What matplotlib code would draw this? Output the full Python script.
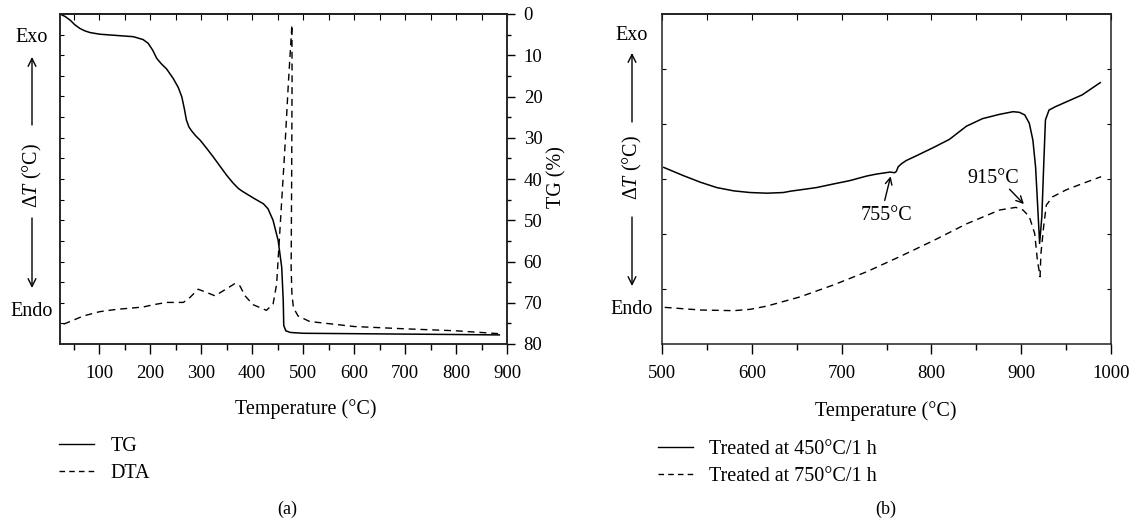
import matplotlib
matplotlib.use("Agg")
import matplotlib.pyplot as plt
from matplotlib.lines import Line2D
from matplotlib.patches import FancyArrowPatch
from matplotlib.ticker import MultipleLocator, FixedLocator, NullFormatter

plt.rcParams["font.family"] = ["Liberation Serif", "DejaVu Serif"]
plt.rcParams["mathtext.fontset"] = "custom"
plt.rcParams["mathtext.rm"] = "Liberation Serif"
plt.rcParams["mathtext.it"] = "Liberation Serif:italic"
plt.rcParams["font.size"] = 14.5

# (a) TG / DTA of the as-prepared powder
tg_temp = [23, 33, 43, 52, 62, 72, 82, 101, 134, 167, 186, 196, 205, 213, 222, 232, 245, 255,
           262, 267, 271, 276, 281, 289, 298, 311, 324, 337, 350, 362, 373, 381, 389, 405,
           422, 431, 441, 451, 458, 461, 462, 466, 475, 500, 600, 700, 800, 885]
tg_loss = [0, 0.6, 1.5, 2.6, 3.5, 4.1, 4.5, 4.9, 5.2, 5.5, 6.2, 7.1, 8.8, 10.8, 12.1, 13.3, 15.6, 17.8,
           20.1, 23.0, 25.7, 27.4, 28.3, 29.5, 30.6, 32.6, 34.7, 36.9, 39.1, 40.9, 42.3, 43.0, 43.6, 44.8,
           46.0, 47.2, 50.0, 54.9, 61.4, 69.5, 75.5, 76.8, 77.2, 77.4, 77.5, 77.6, 77.7, 77.8]

dta_temp = [30, 69, 101, 134, 186, 206, 232, 265, 278, 294, 311, 327, 343, 366, 376,
            386, 402, 428, 441, 448, 454, 464, 471, 475, 478, 478.3, 477.5, 476.5, 478,
            481, 490, 513, 537, 600, 700, 800, 887]
dta_val = [6.0, 8.5, 9.8, 10.5, 11.2, 11.9, 12.6, 12.6, 14.1, 16.6, 15.6, 14.6, 16.1, 18.3, 17.6,
           14.6, 11.9, 10.2, 12.1, 18.1, 33.3, 58.7, 78.9, 89.1, 96.7, 80.0, 50.0, 23.2, 15.1,
           11.0, 8.5, 6.8, 6.4, 5.3, 4.6, 4.0, 3.1]

# (b) DTA of heat-treated samples
b450_temp = [502, 524, 543, 561, 580, 598, 617, 635, 643, 672, 691, 709, 728, 739, 754,
             759, 761, 763, 767, 772, 783, 802, 820, 839, 857, 876, 891, 898, 904, 909,
             913, 916, 918, 920.5, 923, 925, 927, 931, 938, 968, 988]
b450_val = [53.5, 51.0, 49.0, 47.4, 46.4, 45.9, 45.7, 45.9, 46.3, 47.4, 48.5, 49.5, 50.9, 51.5, 52.1,
            51.9, 52.3, 53.7, 54.7, 55.6, 57.0, 59.5, 62.0, 66.0, 68.3, 69.6, 70.4, 70.2, 69.4, 66.9,
            61.8, 53.7, 43.6, 30.5, 38.6, 53.7, 67.9, 70.9, 71.9, 75.5, 79.2]

b750_temp = [503, 543, 580, 598, 617, 654, 691, 728, 765, 802, 839, 876, 887, 894, 902,
             909, 915, 918, 921, 922, 925, 928, 935, 950, 969, 989]
b750_val = [11.1, 10.3, 10.1, 10.5, 11.5, 14.3, 17.9, 21.9, 26.5, 31.3, 36.4, 40.6, 41.1, 41.4, 40.6,
            38.6, 33.5, 25.5, 20.4, 27.5, 35.6, 42.1, 44.6, 46.7, 48.7, 50.7]

W, H = 1135, 522
DASH = (5, 3.5)
TICK_FS = 13.5


def fx(px):
    return px / W


def fy(py):
    return 1 - py / H


def style_axis(ax, step_minor, step_major):
    for s in ax.spines.values():
        s.set_linewidth(1.1)
        s.set_color("#222222")
    ax.xaxis.set_major_locator(MultipleLocator(step_major))
    ax.xaxis.set_minor_locator(MultipleLocator(step_minor))
    ax.tick_params(axis="x", which="major", direction="out", length=7, width=1, pad=8,
                   top=False, labelsize=TICK_FS)
    ax.tick_params(axis="x", which="minor", direction="out", length=4, width=1, top=False)
    top = ax.secondary_xaxis("top")
    top.xaxis.set_major_locator(MultipleLocator(step_minor))
    top.xaxis.set_major_formatter(NullFormatter())
    top.tick_params(direction="in", length=4, width=0.8)
    top.spines["top"].set_linewidth(1.1)


def exo_endo(x, y_exo, y_up0, y_up1, y_dt, y_dn0, y_dn1, y_endo):
    fig.text(fx(x), fy(y_exo), "Exo", ha="center", va="center")
    fig.text(fx(x), fy(y_endo), "Endo", ha="center", va="center")
    fig.text(fx(x), fy(y_dt), r"Δ$T$ (°C)", ha="center", va="center", rotation=90)
    arrow = dict(arrowstyle="->", lw=1.0, color="black", shrinkA=0, shrinkB=0,
                 mutation_scale=14)
    fig.add_artist(FancyArrowPatch((fx(x), fy(y_up0)), (fx(x), fy(y_up1)),
                                   transform=fig.transFigure, **arrow))
    fig.add_artist(FancyArrowPatch((fx(x), fy(y_dn0)), (fx(x), fy(y_dn1)),
                                   transform=fig.transFigure, **arrow))


def legend_at(labels, x, y_top):
    handles = [Line2D([], [], color="black", lw=1.0),
               Line2D([], [], color="black", lw=1.0, dashes=(4, 3))]
    fig.legend(handles, labels, loc="upper left", bbox_to_anchor=(fx(x), fy(y_top)),
               frameon=False, handlelength=1.75, handletextpad=0.8, labelspacing=0.4,
               borderaxespad=0, borderpad=0)


fig = plt.figure(figsize=(11.35, 5.22), dpi=100)

# ---- panel (a)
ax1 = fig.add_axes([fx(60), fy(344), fx(507 - 60), (344 - 14) / H])
ax1.plot(dta_temp, dta_val, color="black", lw=1.0, dashes=DASH)
ax1.set_xlim(23, 900)
ax1.set_ylim(0, 100)
ax1.yaxis.set_major_locator(FixedLocator([100 - 6.25 * k for k in range(1, 16)]))
ax1.yaxis.set_major_formatter(NullFormatter())
ax1.tick_params(axis="y", direction="in", length=3, width=0.8, left=True, right=False)
style_axis(ax1, 50, 100)

ax2 = ax1.twinx()
ax2.plot(tg_temp, tg_loss, color="black", lw=1.1)
ax2.set_ylim(80, 0)
ax2.yaxis.set_major_locator(MultipleLocator(10))
ax2.yaxis.set_minor_locator(MultipleLocator(5))
ax2.tick_params(axis="y", which="major", direction="out", length=6, width=1, pad=6,
                labelsize=TICK_FS)
ax2.tick_params(axis="y", which="minor", direction="out", length=3, width=1)
for s in ax2.spines.values():
    s.set_linewidth(1.1)
    s.set_color("#222222")

fig.text(fx(557), fy(177), "TG (%)", ha="center", va="center", rotation=90)
fig.text(fx(306), fy(409), "Temperature (°C)", ha="center", va="center")
exo_endo(32, 38, 125, 57, 175, 218, 288, 312)
legend_at(["TG", "DTA"], 59, 437)

# ---- panel (b)
ax3 = fig.add_axes([fx(662), fy(344), fx(1111 - 662), (344 - 14) / H])
ax3.plot(b450_temp, b450_val, color="black", lw=1.1)
ax3.plot(b750_temp, b750_val, color="black", lw=1.0, dashes=DASH)
ax3.set_xlim(500, 1000)
ax3.set_ylim(0, 100)
ax3.yaxis.set_major_locator(FixedLocator([100 / 6 * k for k in range(1, 6)]))
ax3.yaxis.set_major_formatter(NullFormatter())
ax3.tick_params(axis="y", direction="in", length=3, width=0.8, left=True, right=True)
style_axis(ax3, 50, 100)

arr = dict(arrowstyle="->", lw=1.0, color="black", shrinkA=0, shrinkB=0, mutation_scale=12)
ax3.annotate("", xy=(754.6, 50.8), xytext=(748, 43.5), arrowprops=arr)
ax3.text(750, 38.8, "755°C", ha="center", va="center")
ax3.annotate("", xy=(903, 42.4), xytext=(887, 46.9), arrowprops=arr)
ax3.text(869, 50.3, "915°C", ha="center", va="center")

fig.text(fx(886), fy(411), "Temperature (°C)", ha="center", va="center")
exo_endo(632, 35, 122, 53, 167, 217, 286, 309)
legend_at(["Treated at 450°C/1 h", "Treated at 750°C/1 h"], 658, 440)

fig.text(fx(287), fy(509), "(a)", ha="center", va="center", fontsize=13)
fig.text(fx(886), fy(509), "(b)", ha="center", va="center", fontsize=13)

fig.savefig("out.png", dpi=100)
